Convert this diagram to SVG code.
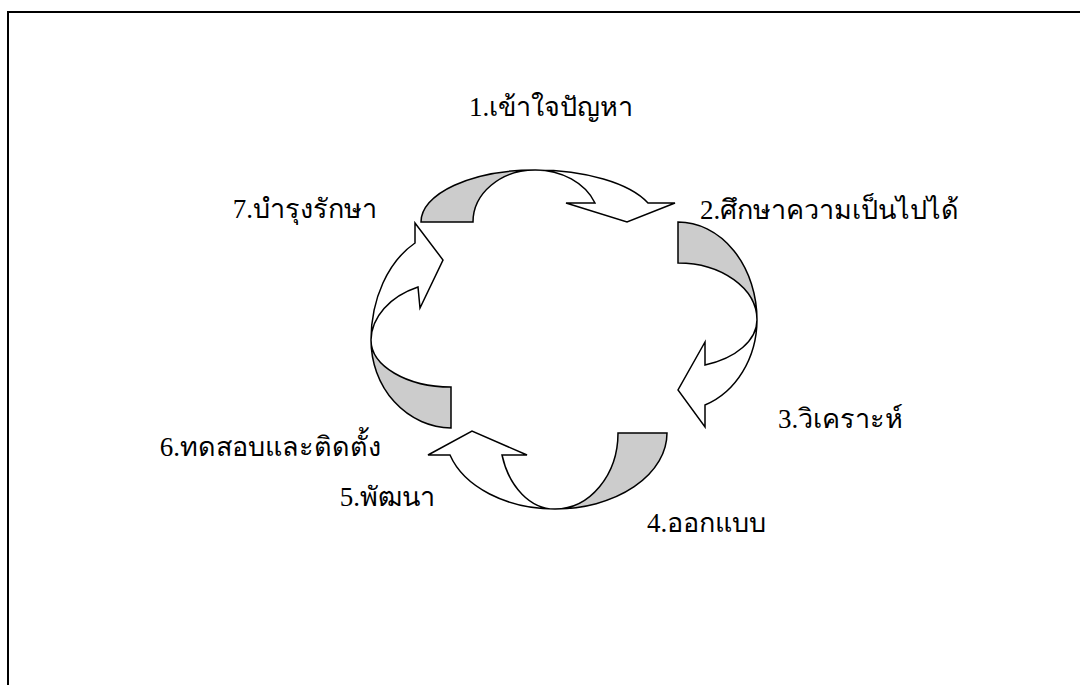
<svg xmlns="http://www.w3.org/2000/svg" width="1080" height="685" viewBox="0 0 1080 685">
  <style>
    .lbl { font-family: "Liberation Serif", "Times New Roman", serif; font-size: 27px; fill: #000; }
    .end { text-anchor: end; }
    .band { fill: #cccccc; stroke: #000; stroke-width: 1.5; stroke-linejoin: miter; }
    .head { fill: #ffffff; stroke: #000; stroke-width: 1.5; stroke-linejoin: miter; }
    .frame { fill: none; stroke: #000; stroke-width: 2; }
  </style>
  <rect x="0" y="0" width="1080" height="685" fill="#ffffff"/>
  <path class="frame" d="M8,690 L8,12 L1085,12"/>

  <g id="connectors">
    <g id="arrow-1-2">
      <path class="band" d="M421,222 A114,52 0 0 1 535,170 A62,52 0 0 0 473,222 Z"/>
      <path class="head" d="M535,170 A121,52 0 0 1 648,203 L675,203 L627,222 L566,203 L595,203 A64,52 0 0 0 535,170 Z"/>
    </g>
    <g id="arrow-2-3">
      <path class="band" d="M678,222 A79,98 0 0 1 757,320 A79,57 0 0 0 678,263 Z"/>
      <path class="head" d="M757,320 A79,91 0 0 1 705,405 L705,427 L678,390 L705,342 L705,365 A79,48 0 0 0 757,320 Z"/>
    </g>
    <g id="arrow-4-5">
      <path class="band" d="M667,433 A112,76 0 0 1 555,509 A63,76 0 0 0 618,433 Z"/>
      <path class="head" d="M555,509 A110,76 0 0 1 450,455 L428,455 L472,431 L527,455 L502,455 A55,76 0 0 0 555,509 Z"/>
    </g>
    <g id="arrow-6-7">
      <path class="band" d="M451,428 A81,88 0 0 1 371,340 A80,47 0 0 0 451,387 Z"/>
      <path class="head" d="M371,340 A80,109 0 0 1 415,243 L415,223 L443,260 L420,308 L418,287 A80,59 0 0 0 371,340 Z"/>
    </g>
  </g>

  <g id="step1"><text class="lbl" x="469" y="116">1.เข้าใจปัญหา</text></g>
  <g id="step2"><text class="lbl" x="700" y="219">2.ศึกษาความเป็นไปได้</text></g>
  <g id="step3"><text class="lbl" x="778" y="428">3.วิเคราะห์</text></g>
  <g id="step4"><text class="lbl" x="647" y="532">4.ออกแบบ</text></g>
  <g id="step5"><text class="lbl end" x="435" y="506">5.พัฒนา</text></g>
  <g id="step6"><text class="lbl end" x="381" y="456">6.ทดสอบและติดตั้ง</text></g>
  <g id="step7"><text class="lbl end" x="377" y="218">7.บำรุงรักษา</text></g>
</svg>
